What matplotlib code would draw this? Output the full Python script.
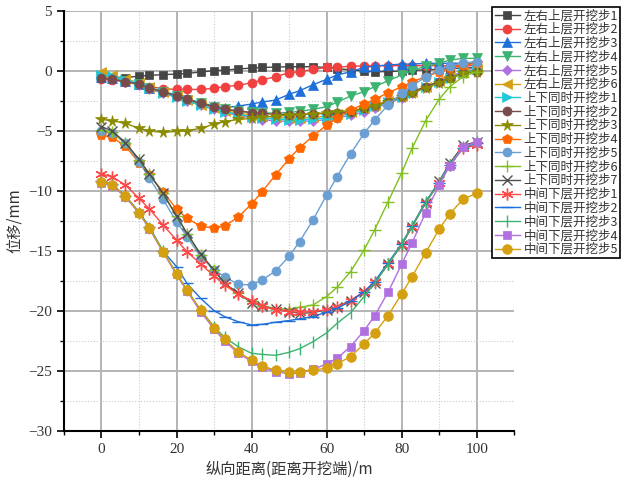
import matplotlib
matplotlib.use("Agg")
import matplotlib.pyplot as plt
from matplotlib.ticker import MultipleLocator

plt.rcParams['font.family'] = ['Noto Sans CJK SC', 'DejaVu Sans']
plt.rcParams['axes.unicode_minus'] = True

# 纵向距离 (m)
x = [0, 2.8, 6.4, 10, 12.8, 16.4, 20, 22.8, 26.4, 30, 32.8, 36.4, 40, 42.8, 46.4, 50,
     52.8, 56.4, 60, 62.8, 66.4, 70, 72.8, 76.4, 80, 82.8, 86.4, 90, 92.8, 96.4, 100]

zy1 = [-0.6, -0.6, -0.55, -0.42, -0.36, -0.3, -0.25, -0.2, -0.08, 0.03, 0.08, 0.17, 0.25, 0.3, 0.33, 0.36,
       0.36, 0.36, 0.3, 0.2, 0.1, 0.0, -0.05, -0.05, 0.0, 0.05, 0.1, 0.15, 0.2, 0.25, 0.3]
zy2 = [-0.69, -0.75, -0.89, -1.1, -1.3, -1.47, -1.53, -1.53, -1.53, -1.44, -1.3, -1.19, -0.97, -0.75, -0.47, -0.14,
       -0.06, 0.14, 0.3, 0.3, 0.42, 0.42, 0.45, 0.45, 0.45, 0.45, 0.45, 0.45, 0.45, 0.45, 0.45]
zy3 = [-0.5, -0.6, -0.85, -1.1, -1.4, -1.7, -2.0, -2.3, -2.65, -2.9, -3.06, -2.92, -2.75, -2.58, -2.42, -1.94,
       -1.64, -1.14, -0.69, -0.33, -0.06, 0.3, 0.42, 0.5, 0.58, 0.58, 0.64, 0.65, 0.65, 0.65, 0.65]
zy4 = [-0.5, -0.6, -0.85, -1.1, -1.4, -1.75, -2.1, -2.4, -2.7, -3.0, -3.2, -3.35, -3.45, -3.5, -3.5, -3.45,
       -3.35, -3.2, -2.97, -2.6, -2.08, -1.72, -1.3, -0.81, -0.33, 0.03, 0.42, 0.64, 0.92, 1.06, 1.06]
zy5 = [-0.5, -0.65, -0.9, -1.15, -1.5, -1.85, -2.2, -2.5, -2.85, -3.2, -3.45, -3.7, -3.9, -4.05, -4.15, -4.2,
       -4.2, -4.15, -4.05, -3.9, -3.7, -3.4, -3.1, -2.7, -2.25, -1.85, -1.35, -0.9, -0.5, 0.0, 0.35]
zy6 = [-0.05, -0.3, -0.65, -1.0, -1.35, -1.75, -2.1, -2.45, -2.8, -3.1, -3.3, -3.5, -3.65, -3.75, -3.85, -3.9,
       -3.9, -3.85, -3.75, -3.6, -3.4, -3.1, -2.85, -2.5, -2.1, -1.75, -1.3, -0.85, -0.5, -0.1, 0.2]

sx1 = [-0.3, -0.45, -0.75, -1.05, -1.4, -1.8, -2.15, -2.5, -2.85, -3.15, -3.4, -3.6, -3.8, -3.9, -4.0, -4.05,
       -4.05, -4.0, -3.9, -3.75, -3.55, -3.25, -2.95, -2.6, -2.2, -1.8, -1.35, -0.9, -0.55, -0.15, 0.15]
sx2 = [-0.61, -0.69, -0.89, -1.08, -1.44, -1.72, -2.08, -2.36, -2.69, -2.97, -3.19, -3.31, -3.47, -3.53, -3.61, -3.64,
       -3.61, -3.58, -3.53, -3.47, -3.39, -3.1, -2.85, -2.56, -2.08, -1.72, -1.31, -0.89, -0.61, -0.19, -0.06]
sx3 = [-4.03, -4.14, -4.36, -4.78, -5.0, -5.11, -5.03, -4.97, -4.78, -4.42, -4.22, -4.03, -3.95, -3.85, -3.75, -3.67,
       -3.65, -3.58, -3.47, -3.39, -3.3, -3.11, -2.9, -2.55, -2.14, -1.8, -1.4, -1.0, -0.6, -0.2, -0.06]
sx4 = [-5.33, -5.53, -6.25, -7.64, -8.67, -10.06, -11.5, -12.28, -12.92, -13.11, -12.92, -12.19, -11.08, -10.06, -8.67, -7.32,
       -6.39, -5.42, -4.5, -3.94, -3.25, -2.75, -2.36, -1.81, -1.31, -0.89, -0.47, -0.06, 0.22, 0.5, 0.64]
sx5 = [-4.97, -5.14, -6.03, -7.56, -8.94, -10.69, -12.56, -13.81, -15.47, -16.58, -17.14, -17.78, -17.83, -17.42, -16.67, -15.45,
       -14.22, -12.42, -10.33, -8.8, -6.9, -5.19, -4.08, -2.83, -1.86, -1.25, -0.47, 0.08, 0.42, 0.69, 0.78]
sx6 = [-4.9, -5.1, -6.0, -7.4, -8.6, -10.2, -12.1, -13.55, -15.3, -16.6, -17.7, -18.5, -19.2, -19.55, -19.8, -19.85,
       -19.7, -19.5, -18.8, -18.03, -16.72, -14.92, -13.25, -10.89, -8.5, -6.44, -4.14, -2.36, -1.31, -0.47, -0.06]
sx7 = [-4.64, -4.97, -5.97, -7.36, -8.58, -10.19, -12.08, -13.53, -15.25, -16.58, -17.69, -18.53, -19.3, -19.6, -19.86, -20.05,
       -20.2, -20.14, -19.9, -19.64, -19.14, -18.39, -17.64, -16.08, -14.5, -12.97, -10.97, -9.2, -7.7, -6.2, -5.9]

zj1 = [-8.58, -8.81, -9.5, -10.61, -11.5, -12.83, -14.08, -15.06, -16.08, -17.08, -17.83, -18.6, -19.15, -19.58, -19.9, -20.07,
       -20.1, -20.05, -19.9, -19.64, -19.14, -18.4, -17.6, -16.08, -14.5, -12.97, -10.97, -9.36, -7.83, -6.44, -6.17]
zj2 = [-9.2, -9.45, -10.4, -11.75, -13.0, -15.0, -16.3, -17.7, -18.94, -19.97, -20.47, -20.89, -21.17, -21.12, -20.94, -20.8,
       -20.65, -20.47, -20.1, -19.78, -19.2, -18.4, -17.55, -16.0, -14.4, -12.9, -10.9, -9.3, -7.8, -6.4, -6.0]
zj3 = [-9.25, -9.5, -10.42, -11.8, -13.1, -15.0, -16.9, -18.25, -19.9, -21.3, -22.2, -22.97, -23.53, -23.62, -23.7, -23.45,
       -23.15, -22.56, -21.83, -21.03, -20.15, -18.8, -17.7, -16.1, -14.45, -12.95, -10.95, -9.3, -7.8, -6.35, -5.95]
zj4 = [-9.3, -9.55, -10.5, -11.85, -13.15, -15.1, -16.95, -18.35, -20.05, -21.5, -22.5, -23.5, -24.2, -24.7, -25.05, -25.25,
       -25.14, -24.86, -24.42, -23.94, -22.97, -21.64, -20.42, -18.43, -16.11, -14.31, -11.81, -9.5, -7.92, -6.36, -5.89]
zj5 = [-9.22, -9.5, -10.42, -11.81, -13.11, -15.06, -16.88, -18.28, -19.9, -21.39, -22.36, -23.4, -24.1, -24.6, -24.92, -25.05,
       -25.05, -24.92, -24.78, -24.42, -23.8, -22.75, -21.86, -20.38, -18.58, -17.14, -15.14, -13.19, -11.92, -10.67, -10.19]

series = [
    ("左右上层开挖步1", zy1, "#454545", "s", 5.5),
    ("左右上层开挖步2", zy2, "#f0403f", "o", 6.5),
    ("左右上层开挖步3", zy3, "#1e6fd9", "^", 6.5),
    ("左右上层开挖步4", zy4, "#3cb371", "v", 6.5),
    ("左右上层开挖步5", zy5, "#b070e0", "D", 5),
    ("左右上层开挖步6", zy6, "#d49f10", "<", 6.5),
    ("上下同时开挖步1", sx1, "#20c8d8", ">", 6.5),
    ("上下同时开挖步2", sx2, "#7a4b4b", "o", 6.5),
    ("上下同时开挖步3", sx3, "#8b8b00", "*", 8.5),
    ("上下同时开挖步4", sx4, "#ff6600", "p", 7),
    ("上下同时开挖步5", sx5, "#6a9fd4", "o", 6.5),
    ("上下同时开挖步6", sx6, "#80c020", "+", 8),
    ("上下同时开挖步7", sx7, "#505050", "x", 6.5),
    ("中间下层开挖步1", zj1, "#ff4848", (6, 2, 0), 8.5),
    ("中间下层开挖步2", zj2, "#1e6fd9", "_", 8),
    ("中间下层开挖步3", zj3, "#3cb371", "|", 8),
    ("中间下层开挖步4", zj4, "#b070e0", "s", 6),
    ("中间下层开挖步5", zj5, "#d49f10", "o", 7),
]

fig = plt.figure(figsize=(6.27, 4.82), dpi=100)
ax = fig.add_axes([0.102, 0.106, 0.718, 0.871])

for name, ys, c, m, ms in series:
    ax.plot(x, ys, color=c, marker=m, markersize=ms, linewidth=1.0, label=name,
            markeredgewidth=1.0 if m in ("+", "x", "_", "|", (6, 2, 0)) else 0.5,
            markeredgecolor=c)

ax.set_xlim(-10, 110)
ax.set_ylim(-30, 5)
ax.xaxis.set_major_locator(MultipleLocator(20))
ax.xaxis.set_minor_locator(MultipleLocator(10))
ax.yaxis.set_major_locator(MultipleLocator(5))
ax.yaxis.set_minor_locator(MultipleLocator(2.5))
ax.grid(which="major", color="#b4b4b4", linewidth=1.4, linestyle="-")
ax.grid(which="minor", color="#cccccc", linewidth=0.8, linestyle=":")
ax.set_axisbelow(True)

for s in ("top", "right"):
    ax.spines[s].set_visible(False)
for s in ("left", "bottom"):
    ax.spines[s].set_linewidth(1.5)
ax.tick_params(which="major", direction="out", length=5, width=1.2)
ax.tick_params(which="minor", direction="out", length=3, width=1.0)
for lab in ax.get_xticklabels() + ax.get_yticklabels():
    lab.set_fontfamily(["Liberation Serif", "DejaVu Serif"])
    lab.set_fontsize(11)
    lab.set_color("#333333")

ax.set_xlabel("纵向距离(距离开挖端)/m", fontsize=11, color="#333333")
ax.set_ylabel("位移/mm", fontsize=11, color="#333333")

leg = ax.legend(loc="upper left", bbox_to_anchor=(0.785, 0.986), bbox_transform=fig.transFigure,
                fontsize=9, labelspacing=0.06, handlelength=2.0, handletextpad=0.3,
                borderpad=0.2, borderaxespad=0, fancybox=False, framealpha=1)
leg.get_frame().set_edgecolor("black")
leg.get_frame().set_linewidth(1.2)
for t in leg.get_texts():
    t.set_color("#333333")

fig.savefig("out.png", dpi=100)
